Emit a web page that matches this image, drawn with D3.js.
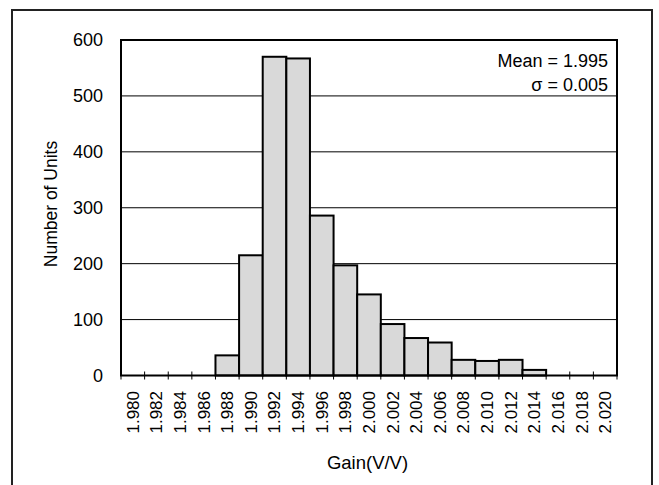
<!DOCTYPE html>
<html><head><meta charset="utf-8">
<script src="https://cdn.jsdelivr.net/npm/d3@7"></script>
<style>body{margin:0;background:#fff}svg{display:block}text{font-family:"Liberation Sans",Arial,sans-serif;fill:#000}</style>
</head><body>
<script>
const categories = ["1.980","1.982","1.984","1.986","1.988","1.990","1.992","1.994","1.996","1.998","2.000","2.002","2.004","2.006","2.008","2.010","2.012","2.014","2.016","2.018","2.020"];
const counts = [0,0,0,0,36,215,570,567,286,197,145,92,67,59,28,26,28,10,0,0,0];
const yTicks = [0,100,200,300,400,500,600];
const statLines = ["Mean = 1.995","\u03c3 = 0.005"];

const W=659,H=485;
const svg=d3.select("body").append("svg").attr("width",W).attr("height",H);
svg.append("rect").attr("x",12).attr("y",10).attr("width",640).attr("height",H+10)
  .attr("fill","none").attr("stroke","#222").attr("stroke-width",2);

const L=121,R=617,T=40,B=375.5;
const x=d3.scaleBand().domain(categories).range([L,R]).padding(0);
const y=d3.scaleLinear().domain([0,600]).range([B,T]);

// gridlines
svg.append("g").selectAll("line").data(yTicks.filter(d=>d>0&&d<600)).join("line")
  .attr("x1",L).attr("x2",R).attr("y1",d=>y(d)).attr("y2",d=>y(d))
  .attr("stroke","#000").attr("stroke-width",1);

// bars
svg.append("g").selectAll("rect").data(categories.map((c,i)=>({c,v:counts[i]})).filter(d=>d.v>0)).join("rect")
  .attr("x",d=>x(d.c)).attr("width",x.bandwidth()).attr("y",d=>y(d.v)).attr("height",d=>B-y(d.v))
  .attr("fill","#d9d9d9").attr("stroke","#000").attr("stroke-width",2);

// plot frame
svg.append("rect").attr("x",L).attr("y",T).attr("width",R-L).attr("height",B-T)
  .attr("fill","none").attr("stroke","#000").attr("stroke-width",2);

// x tick marks at band boundaries
const edges=categories.map(c=>x(c)).concat([R]);
svg.append("g").selectAll("line").data(edges).join("line")
  .attr("x1",d=>d).attr("x2",d=>d).attr("y1",B-4).attr("y2",B+4)
  .attr("stroke","#000").attr("stroke-width",1);

// y labels
const yAxis=d3.axisLeft(y).tickValues(yTicks).tickSize(0).tickPadding(0).tickFormat(d3.format("d"));
const ya=svg.append("g").attr("transform",`translate(103,0)`).call(yAxis);
ya.select(".domain").remove();
ya.selectAll("text").attr("font-size",18).attr("font-family","Liberation Sans, Arial, sans-serif").attr("fill","#000");

// x labels
svg.append("g").selectAll("text").data(categories).join("text")
  .attr("transform",d=>`translate(${x(d)+x.bandwidth()/2},391) rotate(-90)`)
  .attr("text-anchor","end").attr("dy","0.35em").attr("font-size",17).text(d=>d);

// axis titles
svg.append("text").attr("x",367.5).attr("y",469).attr("text-anchor","middle").attr("font-size",18.5).text("Gain(V/V)");
svg.append("text").attr("transform","translate(56.5,204) rotate(-90)").attr("text-anchor","middle").attr("font-size",17.5).text("Number of Units");

// stats
svg.append("g").selectAll("text").data(statLines).join("text")
  .attr("x",608).attr("y",(d,i)=>67+i*24).attr("text-anchor","end").attr("font-size",18).text(d=>d);
</script>
</body></html>
